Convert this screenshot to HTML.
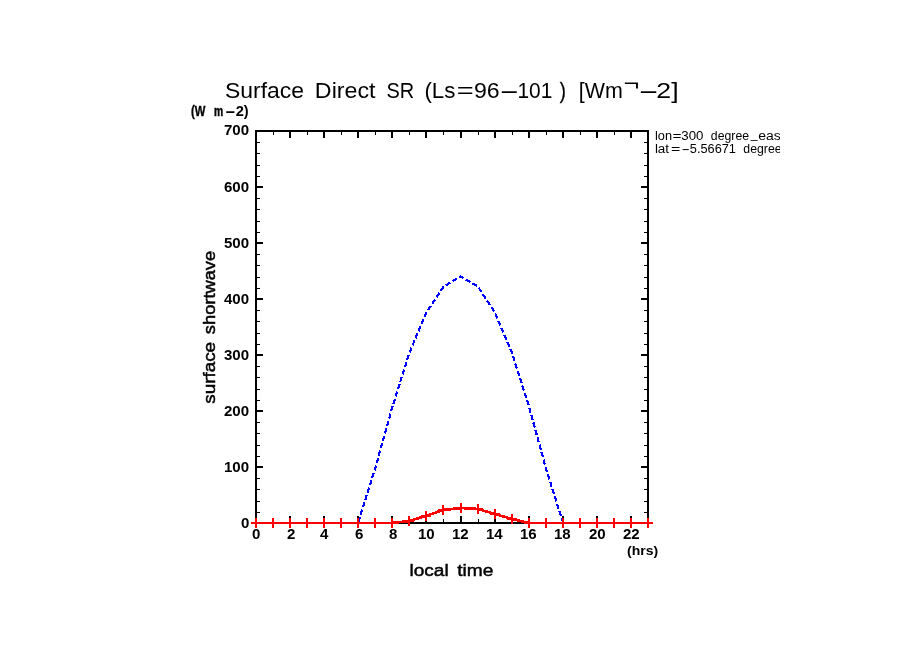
<!DOCTYPE html>
<html lang="en">
<head>
<meta charset="utf-8">
<title>Surface Direct SR (Ls=96-101) [Wm^-2]</title>
<style>
html,body{margin:0;padding:0;background:#fff;}
body{width:904px;height:654px;overflow:hidden;position:relative;font-family:"Liberation Sans",sans-serif;color:#000;}
svg{position:absolute;left:0;top:0;display:block;}
.lab{position:absolute;left:0;top:0;width:0;height:0;}
.lab span{position:absolute;line-height:1;white-space:pre;transform-origin:0 0;}
.clip{position:absolute;left:650px;top:120px;width:129.5px;height:45px;overflow:hidden;}
.clip .lab{left:-650px;top:-120px;}
.line{position:absolute;left:0;white-space:pre;line-height:1;height:0;width:0;}
.line span{display:inline-block;transform-origin:0 0;}
.clip .line{margin-left:-650px;margin-top:-120px;}
</style>
</head>
<body>
<svg width="904" height="654" viewBox="0 0 904 654">
<rect x="0" y="0" width="904" height="654" fill="#ffffff"/>
<g shape-rendering="crispEdges" fill="#000">
<rect x="255" y="130" width="394" height="2"/>
<rect x="255" y="522" width="394" height="2"/>
<rect x="255" y="130" width="2" height="394"/>
<rect x="647" y="130" width="2" height="394"/>
<rect x="255" y="132" width="2" height="6"/><rect x="255" y="516" width="2" height="6"/>
<rect x="273" y="132" width="1" height="3"/><rect x="273" y="519" width="1" height="3"/>
<rect x="289" y="132" width="2" height="6"/><rect x="289" y="516" width="2" height="6"/>
<rect x="307" y="132" width="1" height="3"/><rect x="307" y="519" width="1" height="3"/>
<rect x="323" y="132" width="2" height="6"/><rect x="323" y="516" width="2" height="6"/>
<rect x="341" y="132" width="1" height="3"/><rect x="341" y="519" width="1" height="3"/>
<rect x="357" y="132" width="2" height="6"/><rect x="357" y="516" width="2" height="6"/>
<rect x="375" y="132" width="1" height="3"/><rect x="375" y="519" width="1" height="3"/>
<rect x="391" y="132" width="2" height="6"/><rect x="391" y="516" width="2" height="6"/>
<rect x="409" y="132" width="1" height="3"/><rect x="409" y="519" width="1" height="3"/>
<rect x="425" y="132" width="2" height="6"/><rect x="425" y="516" width="2" height="6"/>
<rect x="443" y="132" width="1" height="3"/><rect x="443" y="519" width="1" height="3"/>
<rect x="460" y="132" width="2" height="6"/><rect x="460" y="516" width="2" height="6"/>
<rect x="478" y="132" width="1" height="3"/><rect x="478" y="519" width="1" height="3"/>
<rect x="494" y="132" width="2" height="6"/><rect x="494" y="516" width="2" height="6"/>
<rect x="512" y="132" width="1" height="3"/><rect x="512" y="519" width="1" height="3"/>
<rect x="528" y="132" width="2" height="6"/><rect x="528" y="516" width="2" height="6"/>
<rect x="546" y="132" width="1" height="3"/><rect x="546" y="519" width="1" height="3"/>
<rect x="562" y="132" width="2" height="6"/><rect x="562" y="516" width="2" height="6"/>
<rect x="580" y="132" width="1" height="3"/><rect x="580" y="519" width="1" height="3"/>
<rect x="596" y="132" width="2" height="6"/><rect x="596" y="516" width="2" height="6"/>
<rect x="614" y="132" width="1" height="3"/><rect x="614" y="519" width="1" height="3"/>
<rect x="630" y="132" width="2" height="6"/><rect x="630" y="516" width="2" height="6"/>
<rect x="648" y="132" width="1" height="3"/><rect x="648" y="519" width="1" height="3"/>
<rect x="257" y="522" width="6" height="2"/><rect x="641" y="522" width="6" height="2"/>
<rect x="257" y="512" width="3" height="1"/><rect x="644" y="512" width="3" height="1"/>
<rect x="257" y="501" width="3" height="1"/><rect x="644" y="501" width="3" height="1"/>
<rect x="257" y="489" width="3" height="1"/><rect x="644" y="489" width="3" height="1"/>
<rect x="257" y="478" width="3" height="1"/><rect x="644" y="478" width="3" height="1"/>
<rect x="257" y="466" width="6" height="2"/><rect x="641" y="466" width="6" height="2"/>
<rect x="257" y="456" width="3" height="1"/><rect x="644" y="456" width="3" height="1"/>
<rect x="257" y="445" width="3" height="1"/><rect x="644" y="445" width="3" height="1"/>
<rect x="257" y="433" width="3" height="1"/><rect x="644" y="433" width="3" height="1"/>
<rect x="257" y="422" width="3" height="1"/><rect x="644" y="422" width="3" height="1"/>
<rect x="257" y="410" width="6" height="2"/><rect x="641" y="410" width="6" height="2"/>
<rect x="257" y="400" width="3" height="1"/><rect x="644" y="400" width="3" height="1"/>
<rect x="257" y="389" width="3" height="1"/><rect x="644" y="389" width="3" height="1"/>
<rect x="257" y="377" width="3" height="1"/><rect x="644" y="377" width="3" height="1"/>
<rect x="257" y="366" width="3" height="1"/><rect x="644" y="366" width="3" height="1"/>
<rect x="257" y="354" width="6" height="2"/><rect x="641" y="354" width="6" height="2"/>
<rect x="257" y="344" width="3" height="1"/><rect x="644" y="344" width="3" height="1"/>
<rect x="257" y="333" width="3" height="1"/><rect x="644" y="333" width="3" height="1"/>
<rect x="257" y="321" width="3" height="1"/><rect x="644" y="321" width="3" height="1"/>
<rect x="257" y="310" width="3" height="1"/><rect x="644" y="310" width="3" height="1"/>
<rect x="257" y="298" width="6" height="2"/><rect x="641" y="298" width="6" height="2"/>
<rect x="257" y="288" width="3" height="1"/><rect x="644" y="288" width="3" height="1"/>
<rect x="257" y="277" width="3" height="1"/><rect x="644" y="277" width="3" height="1"/>
<rect x="257" y="265" width="3" height="1"/><rect x="644" y="265" width="3" height="1"/>
<rect x="257" y="254" width="3" height="1"/><rect x="644" y="254" width="3" height="1"/>
<rect x="257" y="242" width="6" height="2"/><rect x="641" y="242" width="6" height="2"/>
<rect x="257" y="232" width="3" height="1"/><rect x="644" y="232" width="3" height="1"/>
<rect x="257" y="221" width="3" height="1"/><rect x="644" y="221" width="3" height="1"/>
<rect x="257" y="209" width="3" height="1"/><rect x="644" y="209" width="3" height="1"/>
<rect x="257" y="198" width="3" height="1"/><rect x="644" y="198" width="3" height="1"/>
<rect x="257" y="186" width="6" height="2"/><rect x="641" y="186" width="6" height="2"/>
<rect x="257" y="176" width="3" height="1"/><rect x="644" y="176" width="3" height="1"/>
<rect x="257" y="165" width="3" height="1"/><rect x="644" y="165" width="3" height="1"/>
<rect x="257" y="153" width="3" height="1"/><rect x="644" y="153" width="3" height="1"/>
<rect x="257" y="142" width="3" height="1"/><rect x="644" y="142" width="3" height="1"/>
<rect x="257" y="130" width="6" height="2"/><rect x="641" y="130" width="6" height="2"/>
</g>
<polyline points="358.3,521.9 375.3,468.1 392.3,407.1 409.4,352.8 426.4,312.4 443.5,286.7 460.5,276.6 477.6,286.1 494.6,311.9 511.7,352.2 528.7,405.4 545.7,467.6 562.8,521.9" fill="none" stroke="#0000ff" stroke-width="2.2" stroke-dasharray="5.2 2.5" shape-rendering="crispEdges"/>
<polyline points="256,523 273,523 290,523 307,523 324,523 341,523 358,523 375,523 392,523 409,521 426,516 443,510 461,508 478,509 495,514 512,519 529,523 546,523 563,523 580,523 597,523 614,523 631,523 648,523" fill="none" stroke="#ff0000" stroke-width="2" shape-rendering="crispEdges"/>
<polyline points="392,523 409,521 426,516 443,510 461,508 478,509 495,514 512,519 529,523" fill="none" stroke="#ff0000" stroke-width="2.7" shape-rendering="crispEdges"/>
<g fill="#ff0000" shape-rendering="crispEdges">
<rect x="251" y="522" width="10" height="2"/><rect x="255" y="518" width="2" height="10"/>
<rect x="268" y="522" width="10" height="2"/><rect x="272" y="518" width="2" height="10"/>
<rect x="285" y="522" width="10" height="2"/><rect x="289" y="518" width="2" height="10"/>
<rect x="302" y="522" width="10" height="2"/><rect x="306" y="518" width="2" height="10"/>
<rect x="319" y="522" width="10" height="2"/><rect x="323" y="518" width="2" height="10"/>
<rect x="336" y="522" width="10" height="2"/><rect x="340" y="518" width="2" height="10"/>
<rect x="353" y="522" width="10" height="2"/><rect x="357" y="518" width="2" height="10"/>
<rect x="370" y="522" width="10" height="2"/><rect x="374" y="518" width="2" height="10"/>
<rect x="387" y="522" width="10" height="2"/><rect x="391" y="518" width="2" height="10"/>
<rect x="404" y="520" width="10" height="2"/><rect x="408" y="516" width="2" height="10"/>
<rect x="421" y="515" width="10" height="2"/><rect x="425" y="511" width="2" height="10"/>
<rect x="438" y="509" width="10" height="2"/><rect x="442" y="505" width="2" height="10"/>
<rect x="456" y="507" width="10" height="2"/><rect x="460" y="503" width="2" height="10"/>
<rect x="473" y="508" width="10" height="2"/><rect x="477" y="504" width="2" height="10"/>
<rect x="490" y="513" width="10" height="2"/><rect x="494" y="509" width="2" height="10"/>
<rect x="507" y="518" width="10" height="2"/><rect x="511" y="514" width="2" height="10"/>
<rect x="524" y="522" width="10" height="2"/><rect x="528" y="518" width="2" height="10"/>
<rect x="541" y="522" width="10" height="2"/><rect x="545" y="518" width="2" height="10"/>
<rect x="558" y="522" width="10" height="2"/><rect x="562" y="518" width="2" height="10"/>
<rect x="575" y="522" width="10" height="2"/><rect x="579" y="518" width="2" height="10"/>
<rect x="592" y="522" width="10" height="2"/><rect x="596" y="518" width="2" height="10"/>
<rect x="609" y="522" width="10" height="2"/><rect x="613" y="518" width="2" height="10"/>
<rect x="626" y="522" width="10" height="2"/><rect x="630" y="518" width="2" height="10"/>
<rect x="643" y="522" width="10" height="2"/><rect x="647" y="518" width="2" height="10"/>
</g>
</svg>
<div class="line" id="title" style="font-size:22px;font-weight:400;top:80.30px;"><span style="transform:translate(224.96px,0.00px) scaleX(1.0419)">Surface </span><span style="transform:translate(232.85px,0.00px) scaleX(1.0564)">Direct </span><span style="transform:translate(240.49px,0.00px) scaleX(0.9071)">SR </span><span style="transform:translate(242.40px,0.00px) scaleX(1.0138)">(Ls</span><span style="transform:translate(243.68px,0.00px) scaleX(1.3182)">=</span><span style="transform:translate(247.94px,0.00px) scaleX(1.0500)">96</span><span style="transform:translate(249.01px,0.00px) scaleX(2.8000)">-</span><span style="transform:translate(260.43px,0.00px) scaleX(0.9515)">101</span><span style="transform:translate(265.86px,0.00px) scaleX(0.8333);-webkit-text-stroke:0.30px #000">) </span><span style="transform:translate(270.83px,0.00px) scaleX(0.9733)">[Wm</span><span style="transform:translate(270.38px,-6.70px) scaleX(1.2273)">¬</span><span style="transform:translate(272.06px,0.00px) scaleX(2.8800)">-</span><span style="transform:translate(283.30px,0.00px) scaleX(1.2125)">2]</span></div>
<div class="line" id="yunit" style="font-size:14px;font-weight:700;top:103.60px;"><span style="transform:translate(191.09px,0.00px) scaleX(0.8059);-webkit-text-stroke:0.35px #000">(W </span><span style="transform:translate(191.90px,0.00px) scaleX(0.7364);-webkit-text-stroke:0.47px #000">m</span><span style="transform:translate(191.03px,0.00px) scaleX(2.2875)">-</span><span style="transform:translate(196.71px,0.00px) scaleX(1.0417)">2)</span></div>
<div class="line" id="xunit" style="font-size:13px;font-weight:700;top:543.75px;"><span style="transform:translate(627.02px,0.00px) scaleX(1.0796)">(hrs)</span></div>
<div class="line" id="xlabel" style="font-size:17.3px;font-weight:400;-webkit-text-stroke:0.45px #000;top:561.85px;"><span style="transform:translate(409.50px,0.00px) scaleX(1.1029)">local </span><span style="transform:translate(417.16px,0.00px) scaleX(1.1125)">time</span></div>
<div class="line" id="ylabel" style="font-size:17.3px;font-weight:400;-webkit-text-stroke:0.5px #000;left:215.6px;top:387.85px;transform:rotate(-90deg);transform-origin:0 14.65px;"><span style="transform:translate(-1.09px,0.00px) scaleX(1.0909)">surface </span><span style="transform:translate(7.46px,0.00px) scaleX(1.0584)">shortwave</span></div>
<div class="clip">
<div class="line" id="lon" style="font-size:12px;font-weight:400;top:129.50px;"><span style="transform:translate(654.94px,0.00px) scaleX(1.0643)">lon</span><span style="transform:translate(656.58px,0.00px) scaleX(1.2857)">=</span><span style="transform:translate(658.36px,0.00px) scaleX(1.1053)">300 </span><span style="transform:translate(664.86px,0.00px) scaleX(1.0230)">degree</span><span style="transform:translate(666.83px,-1.60px) scaleX(1.0214)">_</span><span style="transform:translate(668.30px,0.00px) scaleX(1.1630)">east</span></div>
<div class="line" id="lat" style="font-size:12px;font-weight:400;top:142.60px;"><span style="transform:translate(654.88px,0.00px) scaleX(1.1167)">lat</span><span style="transform:translate(658.01px,0.00px) scaleX(1.3286)">=</span><span style="transform:translate(661.50px,0.00px) scaleX(2.1000)">-</span><span style="transform:translate(665.83px,0.00px) scaleX(1.0631)">5.56671 </span><span style="transform:translate(673.33px,0.00px) scaleX(1.0230)">degree</span></div>
</div>
<div class="lab" id="yticks" style="font-size:14px;font-weight:700;"><span style="left:224.18px;top:123.00px;transform:scaleX(1.0747)">700</span> <span style="left:224.18px;top:179.50px;transform:scaleX(1.0747)">600</span> <span style="left:224.18px;top:235.50px;transform:scaleX(1.0747)">500</span> <span style="left:224.18px;top:291.50px;transform:scaleX(1.0747)">400</span> <span style="left:224.18px;top:347.50px;transform:scaleX(1.0747)">300</span> <span style="left:224.18px;top:403.50px;transform:scaleX(1.0747)">200</span> <span style="left:224.18px;top:459.50px;transform:scaleX(1.0747)">100</span> <span style="left:241.38px;top:516.00px;transform:scaleX(1.0747)">0</span> </div>
<div class="lab" id="xticks" style="font-size:14px;font-weight:700;"><span style="left:252.44px;top:527.00px;transform:scaleX(1.0747)">0</span> <span style="left:286.53px;top:527.00px;transform:scaleX(1.0747)">2</span> <span style="left:320.08px;top:527.00px;transform:scaleX(1.0747)">4</span> <span style="left:354.70px;top:527.00px;transform:scaleX(1.0747)">6</span> <span style="left:388.79px;top:527.00px;transform:scaleX(1.0747)">8</span> <span style="left:418.04px;top:527.00px;transform:scaleX(1.0747)">10</span> <span style="left:452.12px;top:527.00px;transform:scaleX(1.0747)">12</span> <span style="left:485.67px;top:527.00px;transform:scaleX(1.0747)">14</span> <span style="left:520.30px;top:527.00px;transform:scaleX(1.0747)">16</span> <span style="left:554.39px;top:527.00px;transform:scaleX(1.0747)">18</span> <span style="left:589.01px;top:527.00px;transform:scaleX(1.0747)">20</span> <span style="left:623.10px;top:527.00px;transform:scaleX(1.0747)">22</span> </div>
</body>
</html>
